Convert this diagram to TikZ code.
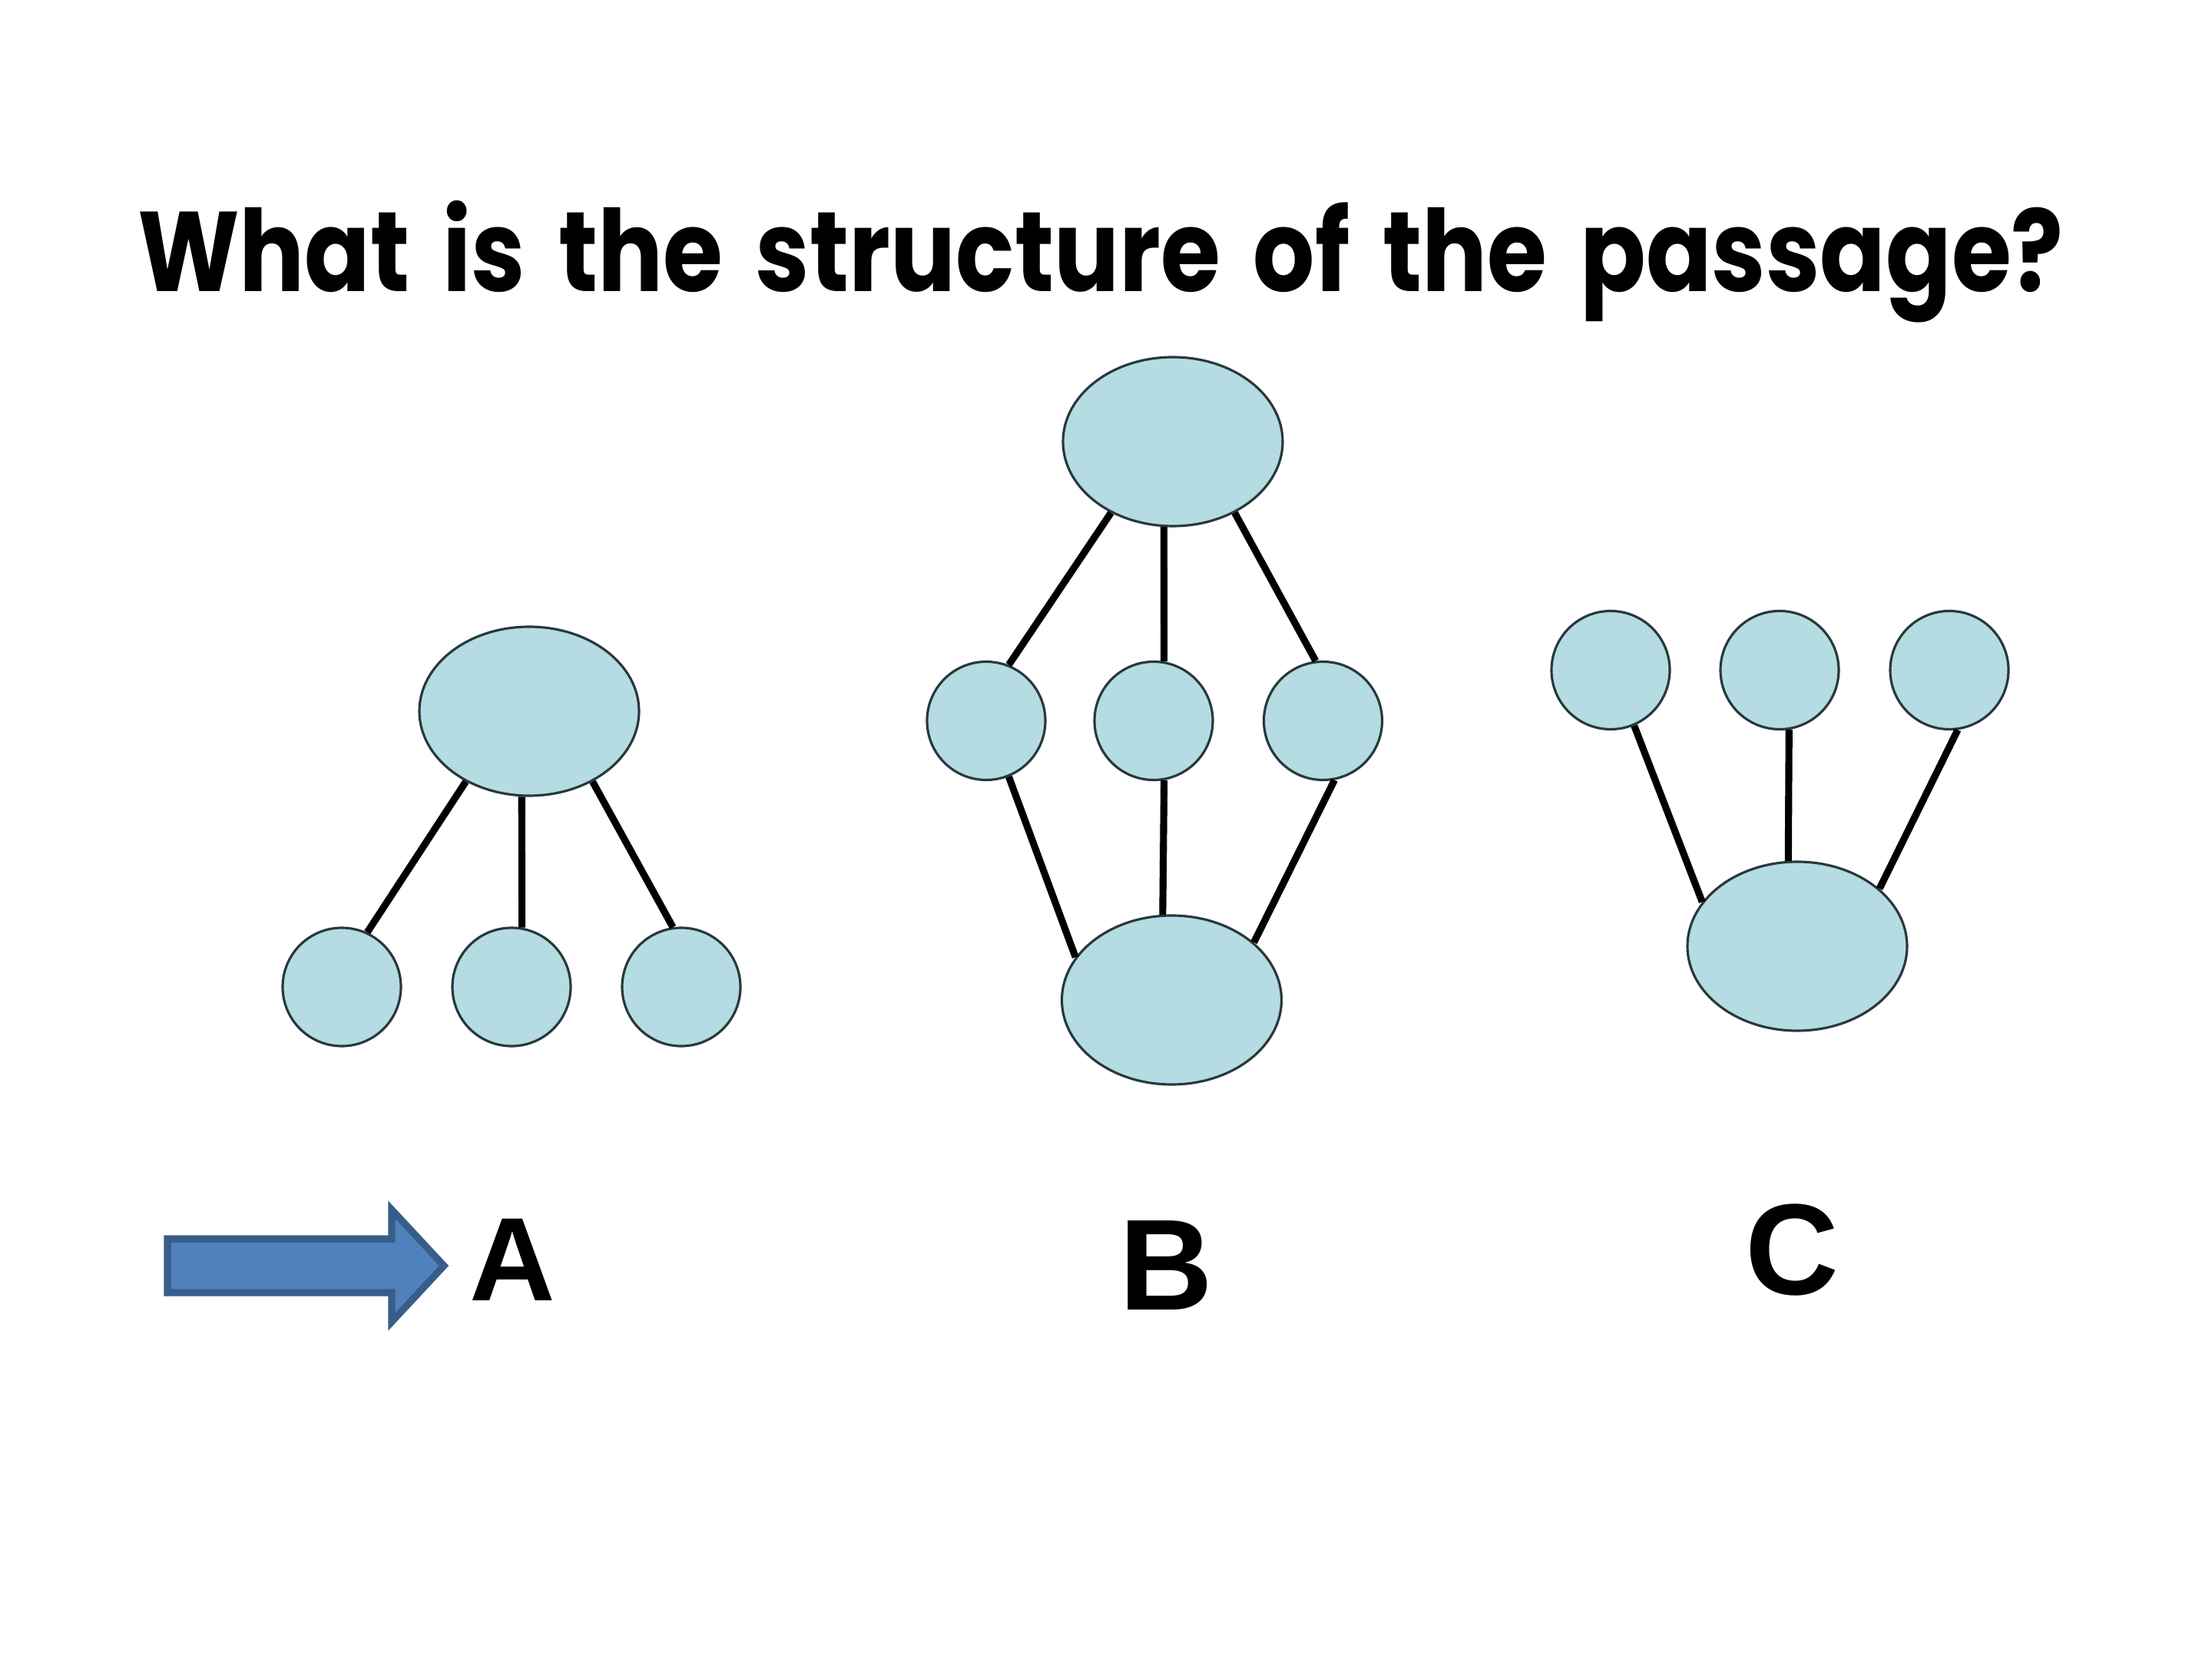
\documentclass[tikz,border=0pt]{standalone}
\usepackage{fontspec}
\usepackage{xcolor}
\usetikzlibrary{shapes.geometric}
\newfontfamily\titlefont{Poppins}[FakeStretch=0.855,WordSpace=1.6]
\newfontfamily\labelfont{Liberation Sans}
\definecolor{bubfill}{RGB}{180,220,226}
\definecolor{bubedge}{RGB}{40,56,60}
\definecolor{arrowfill}{RGB}{79,129,189}
\definecolor{arrowedge}{RGB}{56,93,138}

\begin{document}
\begin{tikzpicture}[
    bigbub/.style={ellipse,draw=bubedge,fill=bubfill,line width=0.9pt,minimum width=2.86cm,minimum height=2.2cm,inner sep=0pt},
    bub/.style={circle,draw=bubedge,fill=bubfill,line width=0.9pt,minimum size=1.54cm,inner sep=0pt},
    link/.style={line width=2.6pt,black},
    letter/.style={anchor=base,inner sep=0pt,font=\labelfont\bfseries\fontsize{48}{56}\selectfont},
    pointer/.style={draw=arrowedge,fill=arrowfill,line width=2.6pt,line join=miter}]
  \useasboundingbox (0,0) rectangle (28.8,-21.6);
  \node[anchor=base,inner sep=0pt,font=\titlefont\bfseries\fontsize{42}{50}\selectfont] (title) at (14.33,-3.80) {What is the structure of the passage?};
  % A
  \node[bigbub] (ra) at (6.89,-9.26) {};
  \foreach \i/\x in {1/4.45,2/6.66,3/8.87} \node[bub] (a\i) at (\x,-12.85) {};
  \foreach \i/\s/\e in {1/-132/65,2/-95/80,3/-48/98} \draw[link] (ra.\s) -- (a\i.\e);
  % B
  \node[bigbub] (bt) at (15.27,-5.75) {};
  \foreach \i/\x in {1/12.84,2/15.02,3/17.225} \node[bub] (b\i) at (\x,-9.385) {};
  \node[bigbub] (bb) at (15.255,-13.02) {};
  \foreach \i/\s/\e in {1/-131/68,2/-96/80,3/-49/97} \draw[link] (bt.\s) -- (b\i.\e);
  \foreach \i/\s/\e in {1/-68/156,2/-80/96,3/-79/35} \draw[link] (b\i.\s) -- (bb.\e);
  % C
  \foreach \i/\x in {1/20.97,2/23.17,3/25.38} \node[bub] (c\i) at (\x,-8.725) {};
  \node[bigbub] (cr) at (23.40,-12.32) {};
  \foreach \i/\s/\e in {1/-67/155,2/-81/96,3/-82/35} \draw[link] (c\i.\s) -- (cr.\e);
  % labels
  \node[letter,font=\labelfont\bfseries\fontsize{44}{52}\selectfont] (labA) at (6.67,-16.93) {A};
  \node[letter] (labB) at (15.18,-17.05) {B};
  \node[letter] (labC) at (23.33,-16.85) {C};
  \draw[pointer] (2.18,-16.13) -- (5.10,-16.13) -- (5.10,-15.75) -- (5.78,-16.48)
    -- (5.10,-17.21) -- (5.10,-16.83) -- (2.18,-16.83) -- cycle;
\end{tikzpicture}
\end{document}
